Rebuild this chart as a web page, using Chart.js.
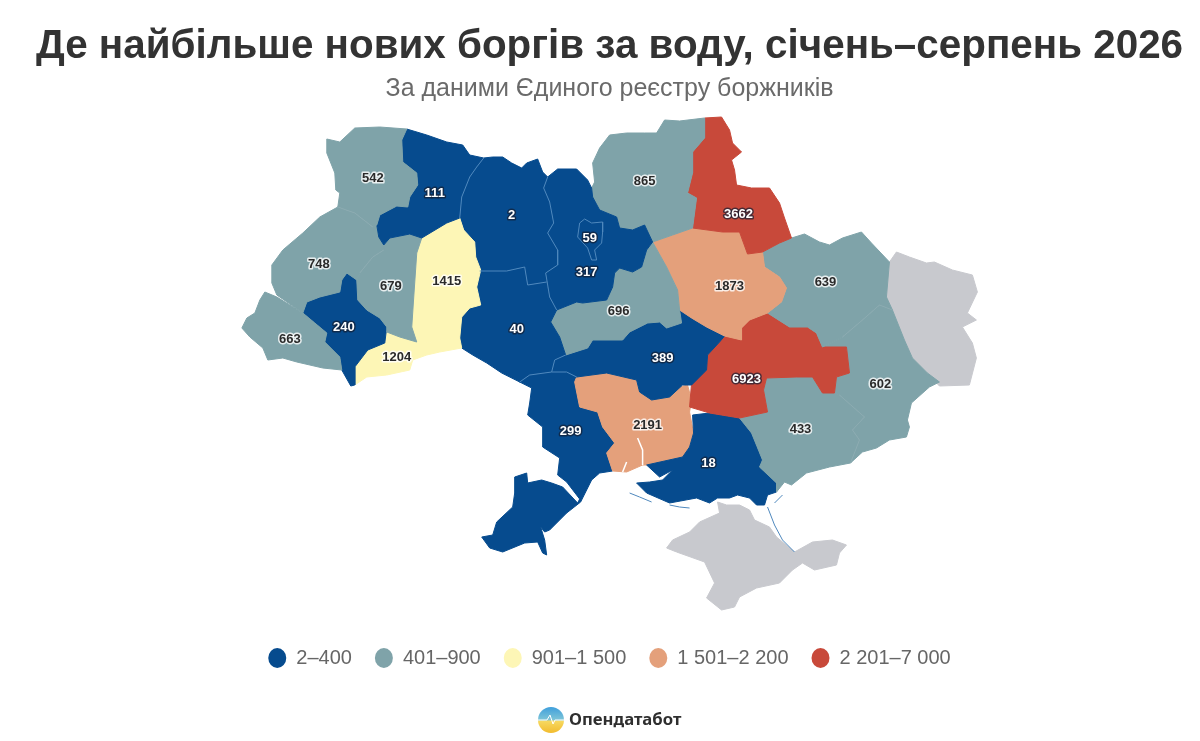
<!DOCTYPE html>
<html lang="uk">
<head>
<meta charset="utf-8">
<title>Де найбільше нових боргів за воду</title>
<style>
html, body { margin: 0; padding: 0; background: #fff; }
#wrap { width: 1200px; height: 741px; }
</style>
<script src="https://cdn.jsdelivr.net/npm/chart.js@4"></script>
</head>
<body>
<div id="wrap"><canvas id="map" width="1200" height="741"></canvas></div>
<script>
// Legend bins
const binLabels = ['2–400', '401–900', '901–1 500', '1 501–2 200', '2 201–7 000'];
const binMax = [400, 900, 1500, 2200, 7000];
const binColors = ['#064b8e', '#7fa3a9', '#fdf6b6', '#e4a07b', '#c8493a'];
const noDataColor = '#c8c9ce';

// Values by oblast
const regionNames = ['Волинська', 'Рівненська', 'Львівська', 'Тернопільська', 'Хмельницька', 'Закарпатська', 'Івано-Франківська', 'Чернівецька', 'Житомирська', 'Київська', 'Київ', 'Вінницька', 'Черкаська', 'Чернігівська', 'Сумська', 'Полтавська', 'Харківська', 'Кіровоградська', 'Дніпропетровська', 'Донецька', 'Запорізька', 'Херсонська', 'Миколаївська', 'Одеська'];
const regionValues = [542, 111, 748, 679, 1415, 663, 240, 1204, 2, 317, 59, 40, 696, 865, 3662, 1873, 639, 389, 6923, 602, 433, 18, 2191, 299];
const labelX = [373, 435, 319, 391, 447, 290, 344, 397, 512, 587, 590, 517, 619, 645, 739, 730, 826, 663, 747, 881, 801, 709, 648, 571];
const labelY = [178, 193, 264, 286, 281, 339, 327, 357, 215, 272, 238, 329, 311, 181, 214, 286, 282, 358, 379, 384, 429, 463, 425, 431];

// Oblast outlines in map units
const volyn = [[327,139],[340,142],[355,128],[380,127],[407,129],[402,140],[403,162],[417,173],[418,185],[410,197],[408,207],[397,206],[380,215],[377,225],[373,227],[355,213],[338,207],[340,193],[336,190],[335,173],[327,153]];
const rivne = [[407,129],[427,135],[447,142],[463,145],[470,155],[484,158],[477,167],[470,177],[462,197],[460,218],[447,223],[422,238],[410,234],[390,238],[384,245],[379,237],[377,225],[380,215],[397,206],[408,207],[410,197],[418,185],[417,173],[403,162],[402,140]];
const lviv = [[338,207],[355,213],[373,227],[377,225],[379,237],[384,245],[384,250],[373,257],[360,273],[357,280],[347,273],[342,280],[340,292],[320,297],[307,302],[303,313],[277,295],[272,283],[272,265],[283,250],[303,233],[320,217]];
const ternopil = [[384,245],[390,238],[410,234],[422,238],[417,253],[414,297],[412,327],[417,342],[400,337],[387,332],[387,327],[380,318],[367,310],[358,300],[357,280],[360,273],[373,257],[384,250]];
const khmelnytskyi = [[460,218],[464,230],[475,242],[476,257],[481,270],[477,287],[481,305],[470,308],[462,317],[460,338],[440,340],[427,343],[417,342],[412,327],[414,297],[417,253],[422,238],[447,223]];
const zakarpattia = [[265,292],[277,297],[303,313],[315,323],[327,333],[325,342],[340,357],[342,370],[323,368],[297,362],[283,358],[268,360],[263,348],[250,337],[242,328],[247,318],[255,313],[260,300]];
const frankivsk = [[347,273],[357,280],[358,300],[367,310],[380,318],[387,327],[385,343],[368,350],[355,367],[355,385],[351,386],[342,370],[340,357],[325,342],[327,333],[315,323],[303,313],[307,302],[320,297],[340,292],[342,280]];
const chernivtsi = [[387,332],[400,337],[417,342],[427,343],[440,340],[460,338],[462,348],[440,352],[427,355],[413,360],[410,370],[387,375],[367,377],[355,385],[355,367],[368,350],[385,343]];
const zhytomyr = [[484,158],[493,157],[503,157],[512,163],[522,168],[527,163],[538,159],[543,172],[548,177],[544,188],[550,202],[554,223],[548,233],[558,250],[558,265],[546,273],[547,282],[528,285],[525,267],[507,271],[480,271],[476,257],[475,242],[464,230],[460,218],[462,197],[470,177],[477,167]];
const kyivObl = [[548,177],[558,169],[577,169],[588,180],[592,188],[593,197],[600,210],[617,217],[620,228],[633,230],[645,225],[653,242],[647,250],[642,267],[633,272],[620,268],[615,273],[613,287],[607,300],[583,303],[577,302],[557,310],[550,297],[546,273],[558,265],[558,250],[548,233],[554,223],[550,202],[544,188]];
const kyivCity = [[580,223],[585,219],[592,223],[603,222],[603,232],[602,243],[595,250],[597,260],[592,260],[588,248],[578,237]];
const vinnytsia = [[480,271],[507,271],[525,267],[528,285],[547,282],[550,297],[557,310],[551,322],[560,337],[566,355],[555,360],[552,372],[530,375],[520,382],[502,373],[487,363],[473,355],[462,348],[460,338],[462,317],[470,308],[481,305],[477,287]];
const cherkasy = [[551,322],[557,310],[577,302],[583,303],[607,300],[613,287],[615,273],[620,268],[633,272],[642,267],[647,250],[653,242],[667,267],[678,290],[680,310],[682,323],[667,328],[660,322],[648,323],[630,332],[623,340],[593,340],[588,348],[566,355],[560,337]];
const chernihiv = [[595,182],[593,163],[600,148],[610,135],[627,133],[645,133],[657,133],[665,120],[680,121],[705,118],[705,138],[693,152],[693,173],[688,193],[697,198],[693,228],[673,235],[653,242],[645,225],[633,230],[620,228],[617,217],[600,210],[593,197],[592,188]];
const sumy = [[705,118],[722,117],[730,130],[733,143],[742,152],[732,160],[735,170],[737,185],[752,188],[770,188],[780,203],[785,218],[792,238],[780,243],[763,252],[748,254],[740,232],[723,232],[693,228],[697,198],[688,193],[693,173],[693,152],[705,138]];
const poltava = [[653,242],[673,235],[693,228],[723,232],[740,232],[748,254],[763,252],[765,267],[780,277],[787,288],[782,302],[768,313],[750,320],[742,328],[742,340],[725,336],[707,327],[692,318],[680,310],[678,290],[667,267]];
const kharkiv = [[792,238],[805,234],[820,242],[830,245],[843,238],[862,232],[872,243],[890,262],[887,297],[893,310],[880,305],[863,320],[843,337],[823,347],[817,333],[808,327],[790,327],[768,313],[782,302],[787,288],[780,277],[765,267],[763,252],[780,243]];
const kirovohrad = [[566,355],[588,348],[593,340],[623,340],[630,332],[648,323],[660,322],[667,328],[682,323],[680,310],[692,318],[707,327],[725,336],[720,342],[708,355],[707,370],[692,385],[683,385],[670,397],[652,400],[640,392],[637,380],[607,373],[577,377],[567,372],[552,372],[555,360]];
const dnipro = [[742,340],[742,328],[750,320],[768,313],[790,327],[808,327],[817,333],[823,347],[847,347],[850,373],[837,377],[835,393],[823,393],[813,377],[797,377],[767,378],[764,390],[768,412],[740,418],[710,413],[690,407],[692,383],[707,370],[708,355],[720,342],[725,336]];
const donetsk = [[893,310],[905,340],[913,358],[928,373],[940,382],[930,387],[912,403],[908,420],[910,427],[907,437],[890,440],[877,448],[863,452],[851,463],[860,440],[853,430],[865,417],[840,395],[835,393],[837,377],[850,373],[847,347],[823,347],[843,337],[863,320],[880,305]];
const zaporizhzhia = [[768,412],[740,418],[752,433],[763,460],[760,467],[777,483],[777,492],[785,482],[792,485],[807,473],[830,467],[851,463],[860,440],[853,430],[865,417],[840,395],[835,393],[823,393],[813,377],[797,377],[767,378],[764,390]];
const kherson = [[693,415],[710,413],[740,418],[752,433],[763,460],[760,467],[777,483],[777,492],[768,495],[765,505],[757,505],[750,498],[738,495],[730,498],[718,498],[710,503],[697,498],[670,503],[647,493],[637,483],[650,482],[663,480],[673,470],[660,477],[647,465],[683,457],[690,447],[694,433]];
const mykolaiv = [[575,382],[577,377],[607,373],[637,380],[640,392],[652,400],[670,397],[675,388],[688,385],[692,400],[690,412],[694,433],[690,447],[683,457],[647,465],[643,465],[627,472],[613,471],[607,453],[615,443],[603,427],[598,412],[580,407]];
const odesa = [[520,382],[530,375],[552,372],[567,372],[577,377],[575,382],[580,407],[598,412],[603,427],[615,443],[607,453],[613,471],[600,473],[592,480],[581,502],[567,513],[550,530],[545,532],[541,527],[545,540],[547,555],[543,553],[538,542],[525,543],[503,552],[490,548],[482,537],[493,535],[497,522],[513,507],[515,493],[515,477],[527,473],[528,483],[542,480],[552,483],[563,487],[578,503],[580,499],[567,482],[558,475],[560,458],[543,447],[543,427],[528,415],[530,403],[532,388]];
const regionOutlines = [volyn, rivne, lviv, ternopil, khmelnytskyi, zakarpattia, frankivsk, chernivtsi, zhytomyr, kyivObl, kyivCity, vinnytsia, cherkasy, chernihiv, sumy, poltava, kharkiv, kirovohrad, dnipro, donetsk, zaporizhzhia, kherson, mykolaiv, odesa];

// No data: Luhansk and Crimea
const luhansk = [[897,252],[910,257],[927,263],[935,262],[953,270],[973,275],[978,292],[968,313],[977,320],[963,327],[973,343],[977,358],[970,385],[940,386],[928,373],[913,358],[905,340],[893,310],[887,297],[890,262]];
const crimea = [[718,502],[727,505],[740,505],[750,510],[755,520],[770,527],[777,537],[795,552],[813,542],[833,540],[847,545],[840,553],[837,565],[815,570],[803,563],[793,570],[780,583],[757,588],[740,597],[735,607],[722,610],[707,598],[715,583],[705,562],[677,552],[667,548],[673,540],[690,532],[700,522],[720,513]];

// Thin lines between oblasts of the same colour
const blueSeams = [
  [[484,158],[477,167],[470,177],[462,197],[460,218]],
  [[548,177],[544,188],[550,202],[554,223],[548,233],[558,250],[558,265],[546,273],[550,297],[557,310]],
  [[480,271],[507,271],[525,267],[528,285],[547,282]],
  [[520,382],[530,375],[552,372],[555,360],[566,355]],
  [[552,372],[567,372],[577,377]],
  kyivCity.concat([kyivCity[0]])
];
const tealSeams = [
  [[338,207],[355,213],[373,227]],
  [[384,250],[373,257],[360,273]],
  [[893,310],[880,305],[863,320],[843,337]],
  [[851,463],[860,440],[853,430],[865,417],[840,395]]
];
const whiteInlets = [[[638,438],[643,450],[643,465]], [[623,472],[627,462]]];
const spits = [[[630,493],[640,497],[652,502]], [[670,505],[680,507],[690,508]], [[775,503],[783,495]], [[768,507],[775,525],[783,540],[795,552]]];

const toPoints = outline => outline.map(p => ({ x: p[0], y: p[1] }));
const binColor = v => binColors[binMax.findIndex(m => v <= m)];

function areaSet(outline, color) {
  const data = toPoints(outline.concat([outline[0]]));
  return { data, showLine: true, fill: 'shape', backgroundColor: color, borderColor: color, borderWidth: 1, pointRadius: 0, order: 2 };
}
function lineSet(line, color, width) {
  return { data: toPoints(line), showLine: true, fill: false, borderColor: color, borderWidth: width, pointRadius: 0, order: 1 };
}

const datasets = [];
regionOutlines.forEach((o, i) => {
  if (i !== 10) datasets.push(areaSet(o, binColor(regionValues[i])));
});
datasets.push(areaSet(luhansk, noDataColor), areaSet(crimea, noDataColor));
blueSeams.forEach(l => datasets.push(lineSet(l, '#4f88bd', 1)));
tealSeams.forEach(l => datasets.push(lineSet(l, '#8cabb1', 1)));
whiteInlets.forEach(l => datasets.push(lineSet(l, '#ffffff', 1.5)));
spits.forEach(l => datasets.push(lineSet(l, '#4f88bd', 1)));

// Number labels hang off their own invisible point set, so they follow the scales
const labelPoints = regionValues.map((v, i) => ({ x: labelX[i], y: labelY[i] }));
datasets.unshift({ data: labelPoints, pointRadius: 0, showLine: false, order: 0 });

const valueLabels = {
  id: 'valueLabels',
  afterDraw(chart) {
    const { ctx } = chart;
    const pts = chart.getDatasetMeta(0).data;
    ctx.save();
    ctx.font = 'bold 13px "Liberation Sans", Arial, sans-serif';
    ctx.textAlign = 'center';
    ctx.textBaseline = 'middle';
    ctx.lineJoin = 'round';
    regionValues.forEach((v, i) => {
      const dark = v <= 400 || v > 2200;
      ctx.lineWidth = 3;
      ctx.strokeStyle = dark ? 'rgba(20,30,50,0.7)' : 'rgba(255,255,255,0.8)';
      ctx.fillStyle = dark ? '#ffffff' : '#2a2a2a';
      ctx.strokeText(String(v), pts[i].x, pts[i].y);
      ctx.fillText(String(v), pts[i].x, pts[i].y);
    });
    ctx.restore();
  }
};

// Logo at the foot of the page
const logo = {
  id: 'logo',
  afterDraw(chart) {
    const { ctx } = chart;
    const cx = 551, cy = 720, r = 13;
    ctx.save();
    const g = ctx.createLinearGradient(0, cy - r, 0, cy + r);
    g.addColorStop(0, '#3f9fdc');
    g.addColorStop(0.48, '#7cc4d8');
    g.addColorStop(0.55, '#f6d860');
    g.addColorStop(1, '#f2bb2e');
    ctx.fillStyle = g;
    ctx.beginPath();
    ctx.arc(cx, cy, r, 0, Math.PI * 2);
    ctx.fill();
    ctx.strokeStyle = '#ffffff';
    ctx.lineWidth = 1;
    ctx.beginPath();
    ctx.moveTo(cx - r, cy);
    ctx.lineTo(cx - 4, cy);
    ctx.lineTo(cx - 1, cy - 5);
    ctx.lineTo(cx + 2, cy + 4);
    ctx.lineTo(cx + 4, cy);
    ctx.lineTo(cx + r, cy);
    ctx.stroke();
    ctx.fillStyle = '#2f2f2f';
    ctx.font = 'bold 16.7px "Noto Sans", sans-serif';
    ctx.textAlign = 'left';
    ctx.textBaseline = 'middle';
    ctx.fillText('Опендатабот', 569, cy);
    ctx.restore();
  }
};

const chart = new Chart(document.getElementById('map').getContext('2d'), {
  type: 'scatter',
  data: { datasets },
  plugins: [valueLabels, logo],
  options: {
    responsive: false,
    animation: false,
    layout: { padding: { left: 19, right: 0, top: 0, bottom: 63 } },
    scales: {
      x: { type: 'linear', display: false },
      y: { type: 'linear', display: false, reverse: true }
    },
    plugins: {
      tooltip: { enabled: false },
      title: {
        display: true,
        text: 'Де найбільше нових боргів за воду, січень–серпень 2026',
        color: '#333333',
        font: { family: '"Liberation Sans", Arial, sans-serif', size: 40.4, weight: 'bold', lineHeight: 1.2 },
        padding: { top: 23, bottom: 0 }
      },
      subtitle: {
        display: true,
        text: 'За даними Єдиного реєстру боржників',
        color: '#6a6a6a',
        font: { family: '"Liberation Sans", Arial, sans-serif', size: 25, weight: 'normal', lineHeight: 1.2 },
        padding: { top: 3, bottom: 5 }
      },
      legend: {
        position: 'bottom',
        labels: {
          usePointStyle: true,
          pointStyleWidth: 18,
          boxHeight: 14,
          padding: 23,
          color: '#666666',
          font: { family: '"Liberation Sans", Arial, sans-serif', size: 20 },
          generateLabels: () => binLabels.map((text, i) => ({
            text, fillStyle: binColors[i], strokeStyle: binColors[i], fontColor: '#666666', lineWidth: 0, pointStyle: 'circle', hidden: false, datasetIndex: 0
          }))
        }
      }
    }
  }
});

// Hidden axes, so the chart area is fixed by now: one map unit = one page pixel
const area = chart.chartArea;
chart.options.scales.x.min = area.left;
chart.options.scales.x.max = area.right;
chart.options.scales.y.min = area.top;
chart.options.scales.y.max = area.bottom;
chart.update('none');
</script>
</body>
</html>
